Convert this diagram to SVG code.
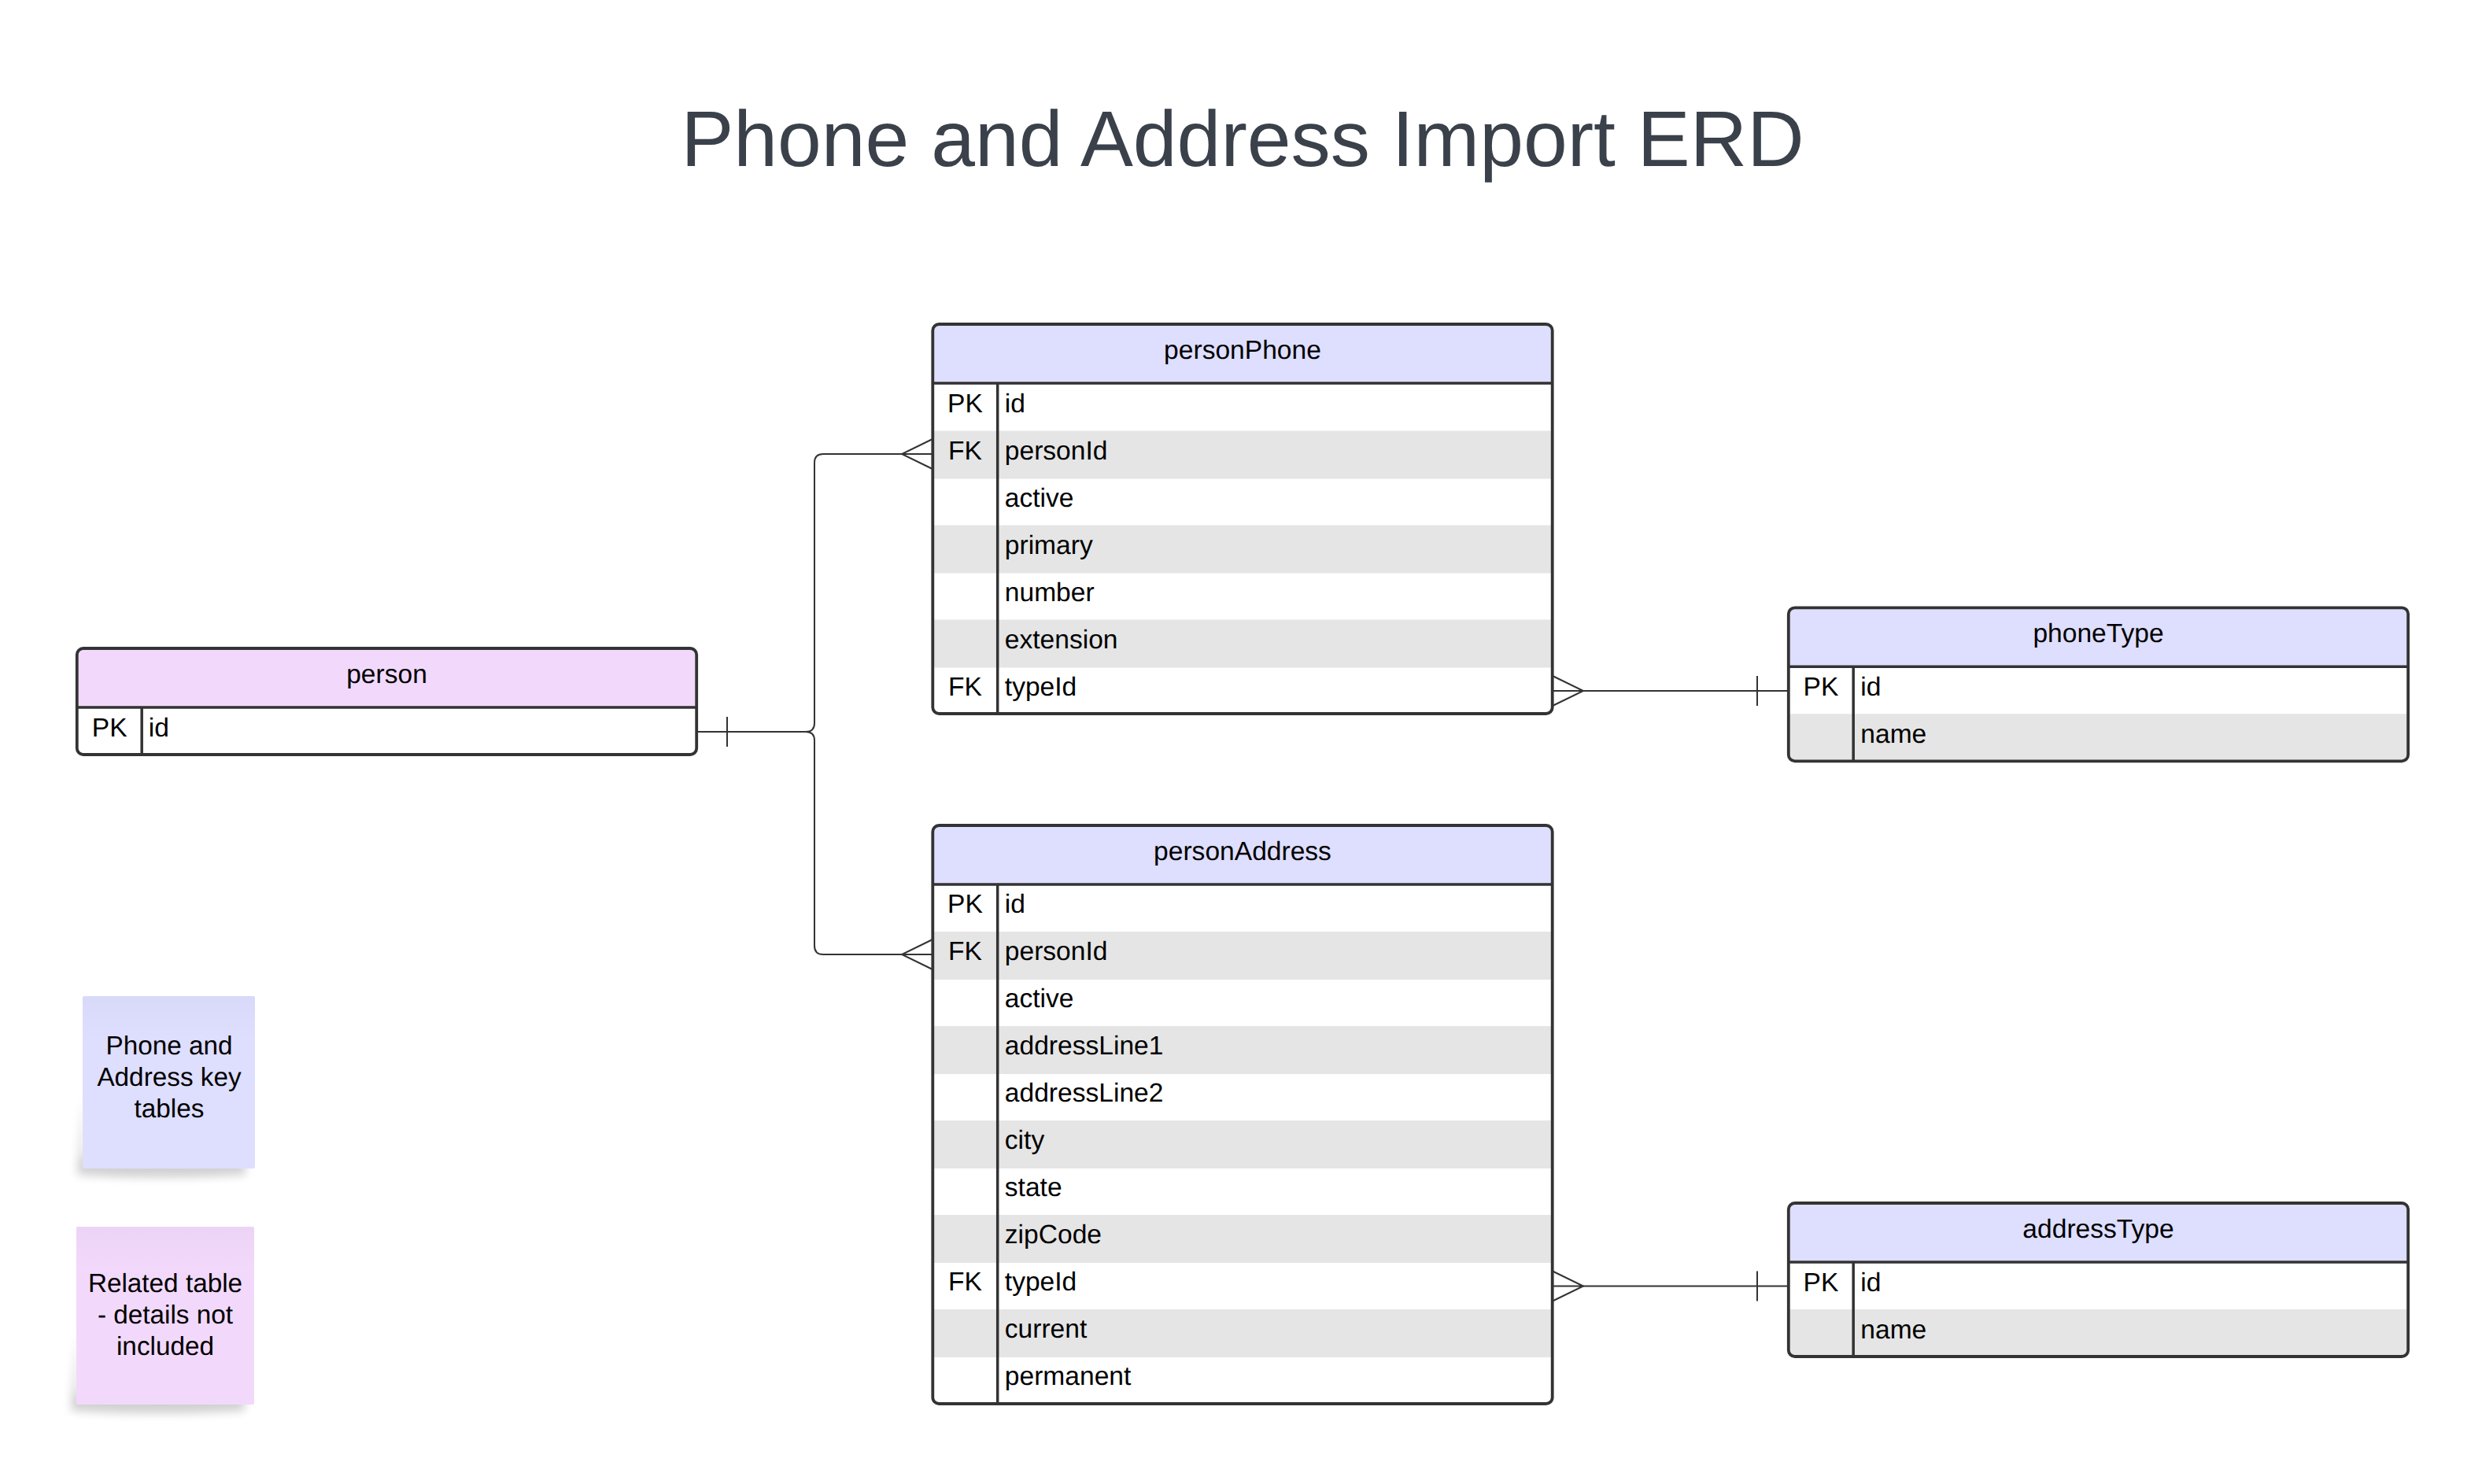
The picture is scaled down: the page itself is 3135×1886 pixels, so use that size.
<svg xmlns="http://www.w3.org/2000/svg" width="3135" height="1886" viewBox="0 0 3135 1886">
<style>
text{font-family:"Liberation Sans",Arial,sans-serif;font-size:33.6px;fill:#000;text-rendering:geometricPrecision}
.m{text-anchor:middle}
.title{font-size:100.3px;fill:#3a414a}
.note{font-size:33.3px}
.box{fill:none;stroke:#333;stroke-width:3.8}
.ln{stroke:#333;stroke-width:3.5;fill:none}
.blue{fill:#dedeff}
.pur{fill:#f2d9fc}
.band{fill:#e5e5e5}
.conn{fill:none;stroke:#333;stroke-width:2}
</style>
<defs>
<filter id="blur" x="-20%" y="-20%" width="140%" height="140%"><feGaussianBlur stdDeviation="6"/></filter>
<linearGradient id="tint" x1="0" y1="0" x2="0" y2="1"><stop offset="0" stop-color="#000" stop-opacity=".025"/><stop offset=".25" stop-color="#000" stop-opacity="0"/></linearGradient>
<g id="tick"><path class="conn" d="M0 -19V19"/></g>
<g id="crowL"><path class="conn" d="M39 -19L0 0L39 19M0 0H39"/></g>
<g id="crowR"><path class="conn" d="M-39 -19L0 0L-39 19M0 0H-39"/></g>
</defs>
<rect width="3135" height="1886" fill="#fff"/>
<text id="title" class="title m" x="1579" y="211">Phone and Address Import ERD</text>

<g id="connectors">
<path class="conn" d="M887 930H1024Q1035 930 1035 919V588Q1035 577 1046 577H1146"/>
<path class="conn" d="M1024 930Q1035 930 1035 941V1202Q1035 1213 1046 1213H1146"/>
<use href="#tick" x="924" y="930"/>
<use href="#crowL" x="1146" y="577"/>
<use href="#crowL" x="1146" y="1213"/>
<path class="conn" d="M2012 878H2272"/>
<use href="#crowR" x="2012" y="878"/>
<use href="#tick" x="2233" y="878"/>
<path class="conn" d="M2012 1634.500H2272"/>
<use href="#crowR" x="2012" y="1634.500"/>
<use href="#tick" x="2233" y="1634.500"/>
</g>

<g id="person" transform="translate(0,-1)">
<rect x="97.800" y="825" width="787.4" height="135" rx="8" fill="#fff"/>
<path class="pur" d="M105.800 825H877.200a8 8 0 0 1 8 8V900H97.800V833a8 8 0 0 1 8-8Z"/>
<path class="ln" d="M97.800 900H885.200M180.200 900V960"/>
<rect class="box" x="97.800" y="825" width="787.4" height="135" rx="8"/>
<text class="m" x="491.500" y="868.500">person</text>
<text class="m" x="139.200" y="936.500">PK</text><text x="188.800" y="936.500">id</text>
</g>

<g id="personPhone">
<rect x="1185.300" y="412" width="787.4" height="495" rx="8" fill="#fff"/>
<path class="blue" d="M1193.300 412H1964.700a8 8 0 0 1 8 8V487H1185.300V420a8 8 0 0 1 8-8Z"/>
<rect class="band" x="1185.300" y="547.500" width="787.4" height="61"/>
<rect class="band" x="1185.300" y="667.500" width="787.4" height="61"/>
<rect class="band" x="1185.300" y="787.500" width="787.4" height="61"/>
<path class="ln" d="M1185.300 487H1972.700M1267.700 487V907"/>
<rect class="box" x="1185.300" y="412" width="787.4" height="495" rx="8"/>
<text class="m" x="1579" y="456">personPhone</text>
<text class="m" x="1226.500" y="523.500">PK</text><text x="1276.800" y="523.500">id</text>
<text class="m" x="1226.500" y="583.500">FK</text><text x="1276.800" y="583.500">personId</text>
<text x="1276.800" y="643.500">active</text>
<text x="1276.800" y="703.500">primary</text>
<text x="1276.800" y="763.500">number</text>
<text x="1276.800" y="823.500">extension</text>
<text class="m" x="1226.500" y="883.500">FK</text><text x="1276.800" y="883.500">typeId</text>
</g>

<g id="personAddress" transform="translate(0,-1)">
<rect x="1185.300" y="1050" width="787.4" height="735" rx="8" fill="#fff"/>
<path class="blue" d="M1193.300 1050H1964.700a8 8 0 0 1 8 8V1125H1185.300V1058a8 8 0 0 1 8-8Z"/>
<rect class="band" x="1185.300" y="1185" width="787.4" height="61"/>
<rect class="band" x="1185.300" y="1305" width="787.4" height="61"/>
<rect class="band" x="1185.300" y="1425" width="787.4" height="61"/>
<rect class="band" x="1185.300" y="1545" width="787.4" height="61"/>
<rect class="band" x="1185.300" y="1665" width="787.4" height="61"/>
<path class="ln" d="M1185.300 1125H1972.700M1267.700 1125V1785"/>
<rect class="box" x="1185.300" y="1050" width="787.4" height="735" rx="8"/>
<text class="m" x="1579" y="1094">personAddress</text>
<text class="m" x="1226.500" y="1161">PK</text><text x="1276.800" y="1161">id</text>
<text class="m" x="1226.500" y="1221">FK</text><text x="1276.800" y="1221">personId</text>
<text x="1276.800" y="1281">active</text>
<text x="1276.800" y="1341">addressLine1</text>
<text x="1276.800" y="1401">addressLine2</text>
<text x="1276.800" y="1461">city</text>
<text x="1276.800" y="1521">state</text>
<text x="1276.800" y="1581">zipCode</text>
<text class="m" x="1226.500" y="1641">FK</text><text x="1276.800" y="1641">typeId</text>
<text x="1276.800" y="1701">current</text>
<text x="1276.800" y="1761">permanent</text>
</g>

<g id="phoneType" transform="translate(0,-1)">
<rect x="2272.800" y="773.300" width="787.4" height="195" rx="8" fill="#fff"/>
<path class="blue" d="M2280.800 773.300H3052.200a8 8 0 0 1 8 8V848.300H2272.800V781.300a8 8 0 0 1 8-8Z"/>
<path class="band" d="M2272.800 908.300H3060.200V960.300a8 8 0 0 1-8 8H2280.800a8 8 0 0 1-8-8Z"/>
<path class="ln" d="M2272.800 848.300H3060.200M2355.200 848.300V968.300"/>
<rect class="box" x="2272.800" y="773.300" width="787.4" height="195" rx="8"/>
<text class="m" x="2666.500" y="817">phoneType</text>
<text class="m" x="2314" y="885">PK</text><text x="2364.300" y="885">id</text>
<text x="2364.300" y="945">name</text>
</g>

<g id="addressType" transform="translate(0,-1)">
<rect x="2272.800" y="1530" width="787.4" height="195" rx="8" fill="#fff"/>
<path class="blue" d="M2280.800 1530H3052.200a8 8 0 0 1 8 8V1605H2272.800V1538a8 8 0 0 1 8-8Z"/>
<path class="band" d="M2272.800 1665H3060.200V1717a8 8 0 0 1-8 8H2280.800a8 8 0 0 1-8-8Z"/>
<path class="ln" d="M2272.800 1605H3060.200M2355.200 1605V1725"/>
<rect class="box" x="2272.800" y="1530" width="787.4" height="195" rx="8"/>
<text class="m" x="2666.500" y="1574">addressType</text>
<text class="m" x="2314" y="1642">PK</text><text x="2364.300" y="1642">id</text>
<text x="2364.300" y="1702">name</text>
</g>

<g id="noteKey">
<path d="M106 1390L98 1493Q200 1500 312 1493L312 1470H106Z" fill="#000" opacity=".18" filter="url(#blur)"/>
<rect x="105" y="1266" width="219" height="219" rx="2" class="blue"/>
<rect x="105" y="1266" width="219" height="219" rx="2" fill="url(#tint)"/>
<text class="m note" x="215" y="1339.500">Phone and</text>
<text class="m note" x="215" y="1379.500">Address key</text>
<text class="m note" x="215" y="1419.500">tables</text>
</g>

<g id="noteRelated">
<path d="M98 1690L90 1793Q200 1800 311 1793L311 1770H98Z" fill="#000" opacity=".18" filter="url(#blur)"/>
<rect x="97" y="1559" width="226" height="226" rx="2" class="pur"/>
<rect x="97" y="1559" width="226" height="226" rx="2" fill="url(#tint)"/>
<text class="m note" x="210" y="1641.500">Related table</text>
<text class="m note" x="210" y="1681.500">- details not</text>
<text class="m note" x="210" y="1721.500">included</text>
</g>
</svg>
